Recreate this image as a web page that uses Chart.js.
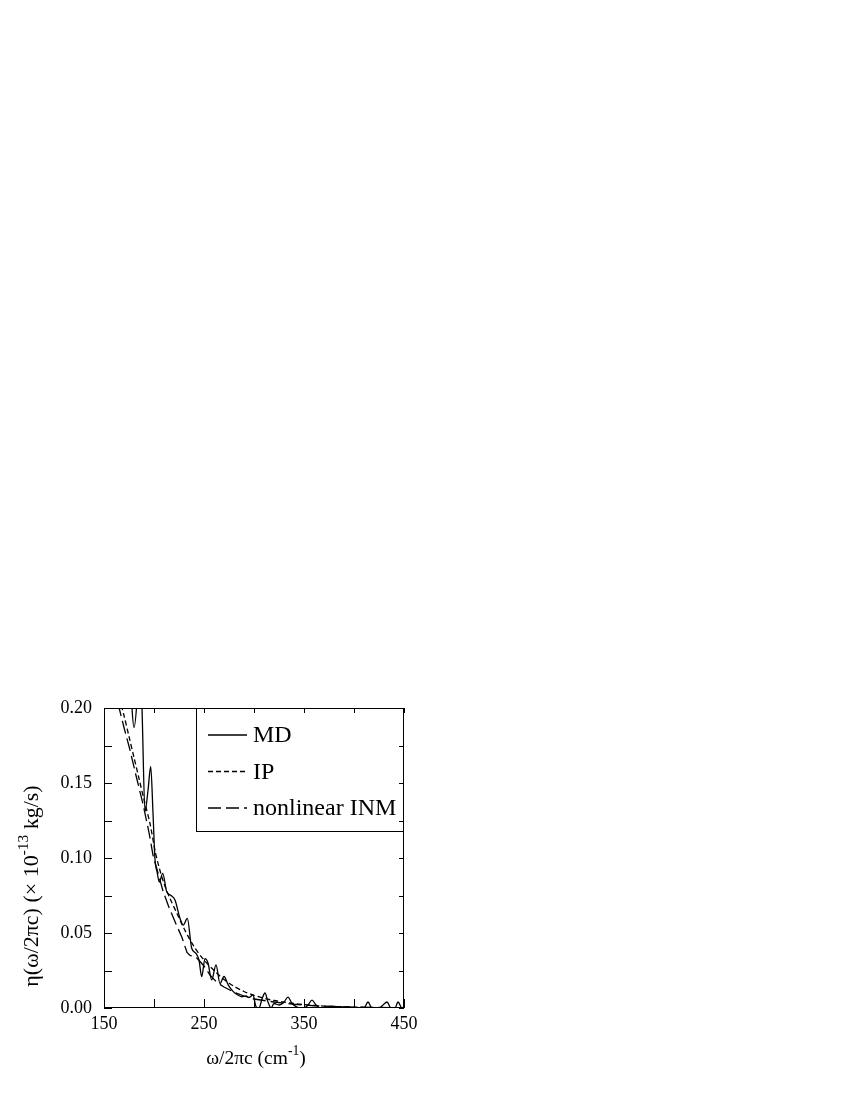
<!DOCTYPE html>
<html>
<head>
<meta charset="utf-8">
<script src="https://cdn.jsdelivr.net/npm/chart.js@4"></script>
<style>
  body { margin: 0; background: #fff; }
  canvas { display: block; }
</style>
</head>
<body>
<canvas id="etaChart" width="850" height="1100"></canvas>
<script>
// frequency in cm^-1, friction in 1e-13 kg/s
const mdFreq = [174, 178, 180, 183, 185.5, 188, 191, 194, 196.7, 199, 201, 203, 205.3, 208.7, 212.7, 217, 221, 226, 229.3, 233.3,
  237.7, 242, 245, 247.7, 251, 254, 257.7, 262, 266, 270, 274.3, 279.3, 283, 287.7, 292, 295, 299, 302, 305, 308,
  311, 314, 317, 320, 325, 330, 334, 338, 342, 346, 350, 354, 358, 362, 366, 372, 380, 390, 400, 405,
  410, 414, 418, 425, 429, 433, 437, 441, 444, 448, 450];
const mdEta = [0.26, 0.200, 0.187, 0.205, 0.24, 0.20, 0.131, 0.145, 0.161, 0.13, 0.099, 0.091, 0.084, 0.0897, 0.0775, 0.075, 0.072, 0.0597, 0.0553, 0.0597,
  0.0398, 0.0364, 0.032, 0.0209, 0.0329, 0.030, 0.0187, 0.0287, 0.0163, 0.021, 0.0153, 0.0109, 0.009, 0.0075, 0.008, 0.007, 0.0087, 0.001, 0.0, 0.006,
  0.010, 0.004, 0.0, 0.003, 0.002, 0.004, 0.0073, 0.003, 0.001, 0.0, 0.0, 0.002, 0.0053, 0.002, 0.0, 0.0005, 0.0005, 0.0, 0.0, 0.0,
  0.0, 0.004, 0.0, 0.0, 0.002, 0.004, 0.0, 0.0, 0.004, 0.0, 0.001];

const ipFreq = [165, 170, 175, 180, 185, 190, 196, 201, 205, 210, 216, 223, 230, 240, 250, 260, 270, 280, 290, 300,
  310, 320, 330, 340, 350, 360, 370, 380, 390, 400, 420, 450];
const ipEta = [0.207, 0.195, 0.181, 0.167, 0.153, 0.139, 0.123, 0.105, 0.094, 0.083, 0.073, 0.063, 0.053, 0.041, 0.032, 0.025, 0.019, 0.0145, 0.011, 0.0085,
  0.0065, 0.005, 0.0039, 0.003, 0.0023, 0.0017, 0.0013, 0.001, 0.0008, 0.0006, 0.0003, 0.0001];

const inmFreq = [164, 170, 176, 182, 189, 195, 199, 204, 209, 215, 222, 228, 233, 236, 242, 250, 256, 263, 270, 280,
  290, 300, 320, 340, 360, 380, 400, 450];
const inmEta = [0.203, 0.187, 0.172, 0.155, 0.136, 0.117, 0.102, 0.090, 0.078, 0.067, 0.056, 0.047, 0.037, 0.035, 0.034, 0.028, 0.022, 0.017, 0.014, 0.0105,
  0.008, 0.006, 0.004, 0.0025, 0.0015, 0.001, 0.0006, 0.0002];

const xTicks = [150, 250, 350, 450];
const xMinor = [150, 200, 250, 300, 350, 400, 450];
const yMinor = [0, 0.025, 0.05, 0.075, 0.1, 0.125, 0.15, 0.175, 0.2];

const serif = '"Liberation Serif", "Times New Roman", serif';

function pts(xs, ys) {
  return xs.map((x, i) => ({ x: x, y: ys[i] }));
}

// tick marks drawn inside the frame on all four sides
const frameTicks = {
  id: 'frameTicks',
  afterDraw(chart) {
    const ctx = chart.ctx;
    const a = chart.chartArea;
    const xs = chart.scales.x, ys = chart.scales.y;
    ctx.save();
    ctx.strokeStyle = '#000';
    ctx.lineWidth = 1;
    ctx.strokeRect(a.left + 0.5, a.top + 0.5, a.right - a.left - 1, a.bottom - a.top - 1);
    ctx.beginPath();
    xMinor.forEach(v => {
      const px = Math.round(xs.getPixelForValue(v)) + 0.5;
      ctx.moveTo(px, a.bottom); ctx.lineTo(px, a.bottom - 9);
      ctx.moveTo(px, a.top); ctx.lineTo(px, a.top + 5);
    });
    yMinor.forEach(v => {
      const py = Math.round(ys.getPixelForValue(v)) + 0.5;
      ctx.moveTo(a.left, py); ctx.lineTo(a.left + 8, py);
      ctx.moveTo(a.right, py); ctx.lineTo(a.right - 5, py);
    });
    ctx.stroke();
    ctx.restore();
  }
};

function drawParts(ctx, parts, size) {
  let w = 0;
  parts.forEach(p => {
    ctx.font = (p.sup ? size * 0.7 : size) + 'px ' + serif;
    p.w = ctx.measureText(p.t).width;
    w += p.w;
  });
  let x = -w / 2;
  parts.forEach(p => {
    ctx.font = (p.sup ? size * 0.7 : size) + 'px ' + serif;
    ctx.fillText(p.t, x, p.sup ? -size * 0.45 : 0);
    x += p.w;
  });
}

// axis titles with superscripts
const axisTitles = {
  id: 'axisTitles',
  afterDraw(chart) {
    const ctx = chart.ctx;
    const a = chart.chartArea;
    ctx.save();
    ctx.fillStyle = '#000';
    ctx.textAlign = 'left';
    ctx.textBaseline = 'alphabetic';
    ctx.translate((a.left + a.right) / 2 + 2, 1064);
    drawParts(ctx, [{ t: 'ω/2πc (cm' }, { t: '-1', sup: true }, { t: ')' }], 19.5);
    ctx.restore();

    ctx.save();
    ctx.fillStyle = '#000';
    ctx.textAlign = 'left';
    ctx.translate(38, (a.top + a.bottom) / 2 + 28);
    ctx.rotate(-Math.PI / 2);
    drawParts(ctx, [{ t: 'η(ω/2πc) (× 10' }, { t: '-13', sup: true }, { t: ' kg/s)' }], 22);
    ctx.restore();
  }
};

// boxed legend in the upper right of the plot
const boxLegend = {
  id: 'boxLegend',
  afterDraw(chart) {
    const ctx = chart.ctx;
    const a = chart.chartArea;
    const left = 196, bottom = 831;
    ctx.save();
    ctx.strokeStyle = '#000';
    ctx.lineWidth = 1;
    ctx.strokeRect(left + 0.5, a.top + 0.5, a.right - left - 1, bottom - a.top);
    ctx.font = '24px ' + serif;
    ctx.textBaseline = 'middle';
    ctx.fillStyle = '#000';
    chart.data.datasets.forEach((ds, i) => {
      const y = 735 + i * 36.5;
      ctx.beginPath();
      ctx.setLineDash(ds.borderDash || []);
      ctx.lineWidth = 1.3;
      ctx.moveTo(208, y);
      ctx.lineTo(247, y);
      ctx.stroke();
      ctx.setLineDash([]);
      ctx.fillText(ds.label, 253, y + 1);
    });
    ctx.restore();
  }
};

new Chart(document.getElementById('etaChart'), {
  type: 'line',
  data: {
    datasets: [
      { label: 'MD', data: pts(mdFreq, mdEta), borderColor: '#000', borderWidth: 1.3, pointRadius: 0, cubicInterpolationMode: 'monotone' },
      { label: 'IP', data: pts(ipFreq, ipEta), borderColor: '#000', borderWidth: 1.3, pointRadius: 0, borderDash: [5, 3], tension: 0.3 },
      { label: 'nonlinear INM', data: pts(inmFreq, inmEta), borderColor: '#000', borderWidth: 1.3, pointRadius: 0, borderDash: [13, 5], tension: 0 }
    ]
  },
  options: {
    responsive: false,
    animation: false,
    layout: { padding: { left: 0, top: 708, right: 446, bottom: 0 } },
    plugins: { legend: { display: false }, tooltip: { enabled: false } },
    scales: {
      x: {
        type: 'linear',
        min: 150, max: 450,
        afterFit: s => { s.height = 92; },
        afterBuildTicks: s => { s.ticks = xTicks.map(v => ({ value: v })); },
        grid: { display: false },
        border: { display: false },
        ticks: { color: '#000', font: { family: serif, size: 18 }, padding: -3, maxRotation: 0 }
      },
      y: {
        min: 0, max: 0.2,
        afterFit: s => { s.width = 104; },
        grid: { display: false },
        border: { display: false },
        ticks: { stepSize: 0.05, color: '#000', font: { family: serif, size: 18 }, padding: 4,
          callback: v => v.toFixed(2) }
      }
    }
  },
  plugins: [frameTicks, axisTitles, boxLegend]
});
</script>
</body>
</html>
